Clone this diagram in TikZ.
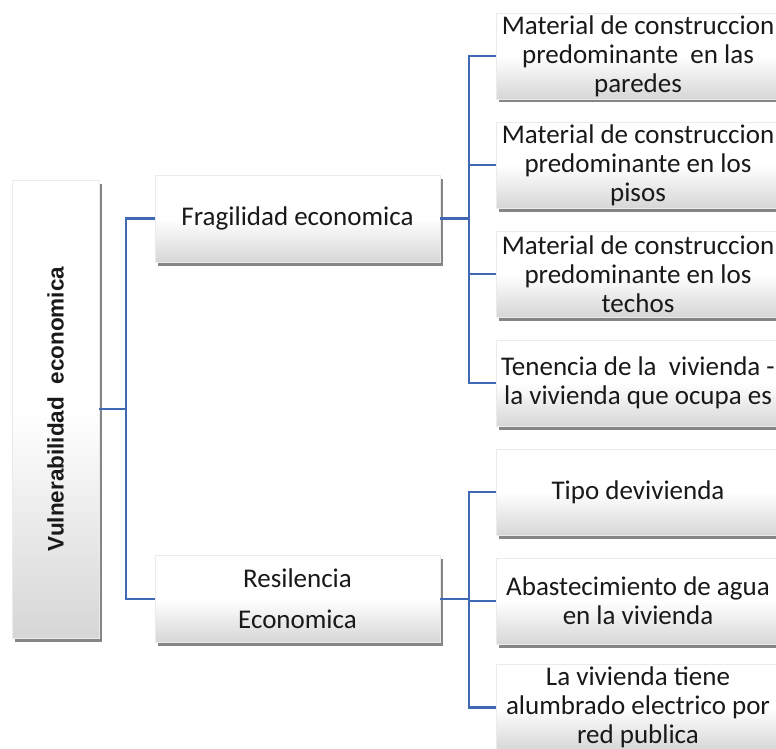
\documentclass[tikz,border=0pt]{standalone}
\usepackage{fontspec}
\setmainfont{Carlito}
\newfontfamily\arialfont{Liberation Sans}
\usetikzlibrary{shadows}
\definecolor{conncol}{RGB}{64,104,180}
\definecolor{txtcol}{RGB}{25,25,25}
\tikzset{
  boxstyle/.style={draw=black!8, line width=0.5pt, top color=white, bottom color=black!16, middle color=white,
    drop shadow={shadow xshift=2.5pt, shadow yshift=-3.5pt, opacity=0.6, fill=black!80},
    inner sep=0pt, text=txtcol, align=center,
    font=\fontsize{27}{29}\selectfont},
  rightbox/.style={boxstyle, minimum width=284pt, minimum height=86pt},
  midbox/.style={boxstyle, minimum width=285pt, minimum height=87pt},
  conn/.style={draw=conncol, line width=2.2pt}
}
\begin{document}
\begin{tikzpicture}[x=1pt,y=-1pt]
\clip (0,0) rectangle (776,749);
\useasboundingbox (0,0) rectangle (776,749);
% root
\node[boxstyle, minimum width=87pt, minimum height=458pt] (root) at (55.5,409) {};
\node[rotate=90, font=\arialfont\bfseries\fontsize{22.5}{26}\selectfont, text=txtcol] (roottxt) at (root.center) {Vulnerabilidad\ \ economica};
% middle
\node[midbox] (frag) at (297.5,218.5) {Fragilidad economica};
\node[midbox, font=\fontsize{27}{41}\selectfont] (res) at (297.5,599) {Resilencia\\Economica};
% right boxes
\node[rightbox] (r1) at (638,56) {Material de construccion\\predominante\ \ en las\\paredes};
\node[rightbox] (r2) at (638,165) {Material de construccion\\predominante en los\\pisos};
\node[rightbox] (r3) at (638,274) {Material de construccion\\predominante en los\\techos};
\node[rightbox] (r4) at (638,383) {Tenencia de la\ \ vivienda -\\la vivienda que ocupa es};
\node[rightbox] (r5) at (638,492) {Tipo devivienda};
\node[rightbox] (r6) at (638,601) {Abastecimiento de agua\\en la vivienda};
\node[rightbox] (r7) at (638,707.5) {La vivienda tiene\\alumbrado electrico por\\red publica};
% connectors
\coordinate (j1) at (126,409);
\coordinate (j2) at (469,218.5);
\coordinate (j3) at (469,599);
\draw[conn] (root.east) -- (j1);
\draw[conn] (j1) |- (frag.west);
\draw[conn] (j1) |- (res.west);
\draw[conn] (frag.east) -- (j2);
\foreach \n in {r1,r2,r3,r4} \draw[conn] (j2) |- (\n.west);
\draw[conn] (res.east) -- (j3);
\foreach \n in {r5,r6,r7} \draw[conn] (j3) |- (\n.west);
\end{tikzpicture}
\end{document}
